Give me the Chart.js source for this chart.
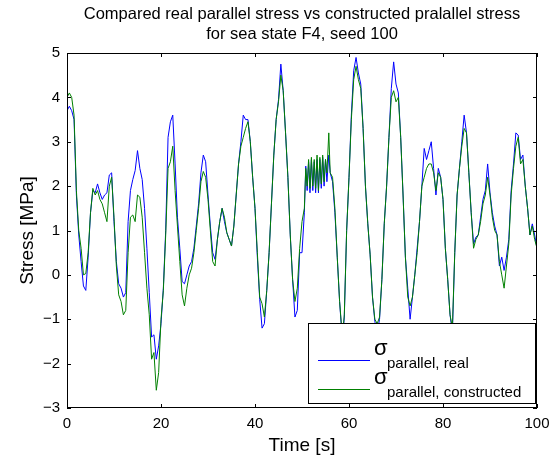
<!DOCTYPE html>
<html>
<head>
<meta charset="utf-8">
<script src="https://cdn.jsdelivr.net/npm/chart.js@4.4.0/dist/chart.umd.min.js"></script>
<style>
  html, body { margin: 0; padding: 0; background: #fff; }
  #wrap { width: 559px; height: 463px; }
</style>
</head>
<body>
<div id="wrap"><canvas id="stressChart" width="559" height="463"></canvas></div>
<script>
// Time axis [s]
const timeSec = [
  0, 0.5, 1, 1.5, 2, 2.5, 3, 3.5, 4, 4.5,
  5, 5.5, 6, 6.5, 7, 7.5, 8, 8.5, 9, 9.5,
  10, 10.5, 11, 11.5, 12, 12.5, 13, 13.5, 14, 14.5,
  15, 15.5, 16, 16.5, 17, 17.5, 18, 18.5, 19, 19.5,
  20, 20.5, 21, 21.5, 22, 22.5, 23, 23.5, 24, 24.5,
  25, 25.5, 26, 26.5, 27, 27.5, 28, 28.5, 29, 29.5,
  30, 30.5, 31, 31.5, 32, 32.5, 33, 33.5, 34, 34.5,
  35, 35.5, 36, 36.5, 37, 37.5, 38, 38.5, 39, 39.5,
  40, 40.5, 41, 41.5, 42, 42.5, 43, 43.5, 44, 44.5,
  45, 45.5, 46, 46.5, 47, 47.5, 48, 48.5, 49, 49.5,
  50, 50.5,
  50.8, 51.1, 51.4, 51.7, 52, 52.3, 52.6, 52.9, 53.2, 53.5, 53.8, 54.1, 54.4, 54.7, 55, 55.3, 55.7,
  56, 56.5, 57, 57.5, 58, 58.6, 59, 59.5,
  60, 60.5, 61, 61.5, 62, 62.5, 63, 63.5, 64, 64.5,
  65, 65.5, 66, 66.5, 67, 67.5, 68, 68.5, 69, 69.5,
  70, 70.5, 71, 71.5, 72, 72.5, 73, 73.5, 74, 74.5,
  75, 75.5, 76, 76.5, 77, 77.5, 78, 78.5, 79, 79.5,
  80, 80.5, 81, 81.5, 82, 82.5, 83, 83.5, 84, 84.5,
  85, 85.5, 86, 86.5, 87, 87.5, 88, 88.5, 89, 89.5,
  90, 90.5, 91, 91.5, 92, 92.5, 93, 93.5, 94, 94.5,
  95, 95.5, 96, 96.5, 97, 97.5, 98, 98.5, 99, 99.5,
  100
];

// Real parallel stress [MPa]
const stressReal = [
  3.7, 3.8, 3.7, 3.5, 1.8, 0.9, 0.3, -0.25, -0.35, 0.4,
  1.4, 1.9, 1.85, 2.05, 1.85, 1.7, 1.8, 1.85, 2.25, 2.3,
  1.2, 0.3, -0.2, -0.3, -0.5, -0.4, 1.2, 1.9, 2.15, 2.35,
  2.8, 2.4, 2.15, 1.5, 0.6, -0.4, -1.4, -1.35, -1.9, -1.6,
  -1.1, -0.3, 1.0, 3.1, 3.45, 3.6, 2.5, 1.3, 0.6, -0.15,
  -0.2, 0.0, 0.2, 0.3, 0.6, 1.1, 1.6, 2.3, 2.7, 2.55,
  1.8, 1.1, 0.5, 0.35, 0.8, 1.2, 1.5, 1.2, 0.95, 0.8,
  0.65, 1.1, 1.8, 2.5, 3.0, 3.6, 3.5, 3.5, 3.0, 2.2,
  1.5, 0.4, -0.55, -1.2, -1.1, -0.35, 0.5, 1.6, 2.7, 3.5,
  3.95, 4.75, 4.15, 3.2, 2.2, 0.9, -0.1, -0.95, -0.8, 0.5,
  0.5, 1.4,
  2.45, 1.9, 2.55, 1.85, 2.6, 1.9, 2.55, 1.85, 2.6, 1.85, 2.6, 1.95, 2.65, 2.0, 2.6, 2.1, 2.7,
  2.3, 2.1, 1.4, 0.4, -0.6, -1.5, -0.95, 1.0,
  2.2, 3.6, 4.6, 4.9, 4.55, 4.3, 3.3, 2.0, 1.15, 0.45,
  -0.5, -1.05, -1.3, -1.0, -0.1, 1.15, 2.0, 3.1, 4.2, 4.8,
  4.3, 4.1, 3.1, 1.8, 0.4, -0.3, -1.0, -0.5, 0.0, 0.6,
  1.2, 2.0, 2.85, 2.6, 2.8, 3.0, 2.4, 1.8, 2.4, 2.2,
  1.7, 0.6, -0.1, -0.9, -1.3, 0.5, 1.8, 2.4, 3.0, 3.6,
  3.2, 2.3, 1.4, 0.7, 0.85, 0.9, 1.3, 1.7, 1.9, 2.5,
  1.85, 1.4, 1.1, 0.9, 0.2, 0.4, 0.1, 0.4, 0.8, 1.9,
  2.5, 3.2, 3.15, 2.6, 2.7, 2.0, 1.5, 0.9, 1.15, 0.9,
  0.6
];

// Constructed parallel stress [MPa]
const stressConstructed = [
  4.0, 4.1, 4.0, 3.6, 1.9, 1.0, 0.6, 0.0, 0.03, 0.5,
  1.4, 1.95, 1.8, 1.9, 1.7, 1.6, 1.4, 1.2, 2.0, 2.2,
  1.3, 0.2, -0.45, -0.6, -0.9, -0.8, 0.5, 1.3, 1.35, 1.2,
  1.8, 1.75, 1.3, 0.5, -0.3, -0.9, -1.9, -1.75, -2.6, -2.2,
  -1.0, -0.35, 0.9, 2.4, 2.55, 2.9, 1.9, 1.1, 0.3, -0.45,
  -0.7, -0.3, 0.0, 0.15, 0.5, 1.0, 1.5, 2.1, 2.33, 2.2,
  1.7, 1.0, 0.3, 0.2, 0.8, 1.2, 1.5, 1.3, 0.95, 0.8,
  0.65, 1.1, 1.8, 2.5, 2.9, 3.1, 3.3, 3.45, 3.0, 2.2,
  1.5, 0.5, -0.5, -0.65, -0.95, -0.35, 0.5, 1.6, 2.7, 3.5,
  3.9, 4.5, 4.15, 3.2, 2.2, 0.9, -0.1, -0.6, -0.3, 0.6,
  1.2, 1.5,
  2.4, 2.0, 2.6, 1.95, 2.65, 2.0, 2.6, 1.95, 2.7, 1.9, 2.65, 2.05, 2.7, 2.1, 2.6, 2.3, 3.2,
  2.3, 2.2, 1.5, 0.4, -0.6, -1.4, -0.9, 1.0,
  2.2, 3.5, 4.4, 4.7, 4.4, 4.2, 3.3, 2.0, 1.15, 0.45,
  -0.5, -1.0, -1.1, -0.95, -0.1, 1.15, 2.0, 3.1, 4.0, 4.15,
  3.9, 4.0, 3.1, 1.8, 0.4, -0.5, -0.7, -0.5, 0.0, 0.5,
  1.2, 2.0, 2.2, 2.4, 2.5, 2.5, 2.3, 1.9, 2.3, 2.2,
  1.7, 0.6, -0.1, -0.9, -1.2, 0.5, 1.8, 2.4, 2.9, 3.3,
  3.2, 2.3, 1.4, 0.6, 0.8, 0.9, 1.2, 1.6, 1.8, 2.2,
  1.8, 1.3, 1.0, 0.9, 0.3, 0.0, -0.3, 0.2, 0.7, 1.8,
  2.4, 2.9, 3.1, 2.5, 2.6, 2.0, 1.5, 0.9, 1.1, 0.8,
  0.6
];

const xTicks = [0, 20, 40, 60, 80, 100];
const yTicks = [-3, -2, -1, 0, 1, 2, 3, 4, 5];
const titleLines = ['Compared real parallel stress vs constructed pralallel stress', 'for sea state F4, seed 100'];
const xLabel = 'Time [s]';
const yLabel = 'Stress [MPa]';
const legendSubs = ['parallel, real', 'parallel, constructed'];

const FONT = '"Liberation Sans", Arial, Helvetica, sans-serif';
const BLUE = '#0000ff';
const GREEN = '#008000';

function toPoints(values) {
    return timeSec.map((t, i) => ({ x: t, y: values[i] }));
}

function fmtTick(v) {
    return v < 0 ? '\u2212' + Math.abs(v) : String(v);
}

// Box, inward ticks, titles and the legend, MATLAB style
const matlabFrame = {
    id: 'matlabFrame',
    afterDatasetsDraw(chart) {
        const ctx = chart.ctx;
        const a = chart.chartArea;
        const xs = chart.scales.x;
        const ys = chart.scales.y;
        const tl = 4;

        ctx.save();
        ctx.strokeStyle = '#000';
        ctx.lineWidth = 1;
        ctx.beginPath();
        xTicks.forEach(v => {
            const px = Math.round(xs.getPixelForValue(v)) + 0.5;
            ctx.moveTo(px, a.bottom); ctx.lineTo(px, a.bottom - tl);
            ctx.moveTo(px, a.top); ctx.lineTo(px, a.top + tl);
        });
        yTicks.forEach(v => {
            const py = Math.round(ys.getPixelForValue(v)) + 0.5;
            ctx.moveTo(a.left, py); ctx.lineTo(a.left + tl, py);
            ctx.moveTo(a.right, py); ctx.lineTo(a.right - tl, py);
        });
        ctx.stroke();
        ctx.strokeRect(a.left + 0.5, a.top + 0.5, a.right - a.left - 1, a.bottom - a.top - 1);

        // legend
        const lx = 308, ly = 323, lw = 228, lh = 81;
        ctx.fillStyle = '#fff';
        ctx.fillRect(lx, ly, lw, lh);
        ctx.strokeRect(lx + 0.5, ly + 0.5, lw - 1, lh - 1);
        const rows = [
            { color: BLUE, line: 360, base: 355, sub: 368 },
            { color: GREEN, line: 389, base: 384, sub: 397 }
        ];
        rows.forEach((r, i) => {
            ctx.strokeStyle = r.color;
            ctx.beginPath();
            ctx.moveTo(318, r.line + 0.5);
            ctx.lineTo(370, r.line + 0.5);
            ctx.stroke();
            ctx.fillStyle = '#000';
            ctx.textAlign = 'left';
            ctx.textBaseline = 'alphabetic';
            ctx.font = '22px ' + FONT;
            ctx.fillText('\u03c3', 374, r.base);
            ctx.font = '15px ' + FONT;
            ctx.fillText(legendSubs[i], 387, r.sub);
        });

        // titles
        const cx = (a.left + a.right) / 2;
        ctx.fillStyle = '#000';
        ctx.textAlign = 'center';
        ctx.textBaseline = 'middle';
        ctx.font = '16.5px ' + FONT;
        ctx.fillText(titleLines[0], cx, 14);
        ctx.fillText(titleLines[1], cx, 34);

        ctx.font = '19px ' + FONT;
        ctx.fillText(xLabel, cx, 446);
        ctx.translate(28, (a.top + a.bottom) / 2);
        ctx.rotate(-Math.PI / 2);
        ctx.fillText(yLabel, 0, 0);
        ctx.restore();
    }
};

new Chart(document.getElementById('stressChart').getContext('2d'), {
    type: 'line',
    data: {
        datasets: [{
            label: 'sigma parallel, real',
            data: toPoints(stressReal),
            borderColor: BLUE,
            borderWidth: 1,
            pointRadius: 0,
            tension: 0,
            fill: false,
            order: 1
        }, {
            label: 'sigma parallel, constructed',
            data: toPoints(stressConstructed),
            borderColor: GREEN,
            borderWidth: 1,
            pointRadius: 0,
            tension: 0,
            fill: false,
            order: 0
        }]
    },
    options: {
        responsive: false,
        animation: false,
        devicePixelRatio: 1,
        layout: { padding: { left: 0, top: 53, right: 22, bottom: 0 } },
        plugins: {
            legend: { display: false },
            title: { display: false },
            tooltip: { enabled: false }
        },
        scales: {
            x: {
                type: 'linear',
                min: 0,
                max: 100,
                grid: { display: false, drawTicks: false },
                border: { display: false },
                afterBuildTicks(scale) { scale.ticks = xTicks.map(v => ({ value: v })); },
                afterFit(scale) { scale.height = 55; },
                ticks: {
                    color: '#000',
                    padding: 7,
                    maxRotation: 0,
                    autoSkip: false,
                    font: { family: FONT, size: 15 },
                    callback: v => fmtTick(v)
                }
            },
            y: {
                type: 'linear',
                min: -3,
                max: 5,
                grid: { display: false, drawTicks: false },
                border: { display: false },
                afterBuildTicks(scale) { scale.ticks = yTicks.map(v => ({ value: v })); },
                afterFit(scale) { scale.width = 67; },
                ticks: {
                    color: '#000',
                    padding: 7,
                    autoSkip: false,
                    font: { family: FONT, size: 15 },
                    callback: v => fmtTick(v)
                }
            }
        }
    },
    plugins: [matlabFrame]
});
</script>
</body>
</html>
